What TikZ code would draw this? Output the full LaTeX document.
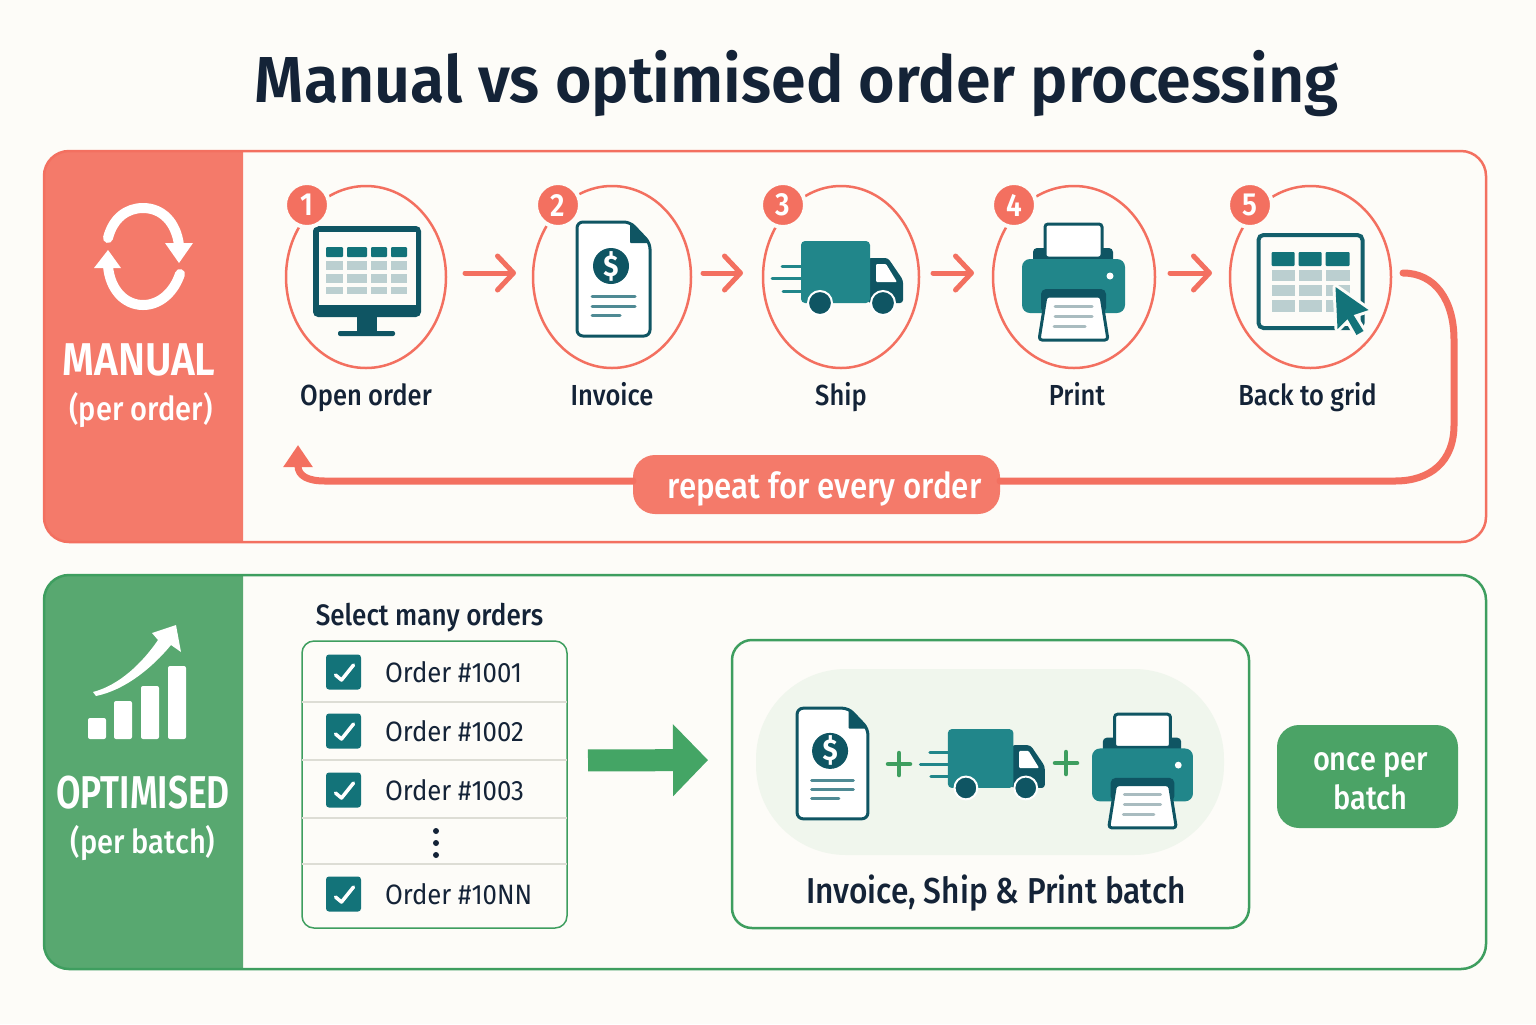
\documentclass[tikz,border=0pt]{standalone}
\usepackage{fontspec}
\setmainfont[FakeStretch=0.92]{Fira Sans}
\newfontfamily\labelfont[FakeStretch=0.88]{Fira Sans Medium}
\newfontfamily\titlefont[FakeStretch=0.965]{Fira Sans SemiBold}
\newfontfamily\sidefont[FakeStretch=0.88]{Fira Sans SemiBold}
\newfontfamily\sidenarrowfont[FakeStretch=0.77]{Fira Sans SemiBold}
\usetikzlibrary{%
	calc,%
	arrows.meta,%
	shapes.geometric,%
	positioning,%
}
\definecolor{cpaper}{RGB}{253, 252, 248}
\definecolor{cink}{RGB}{20, 35, 55}
\definecolor{cred}{RGB}{243, 112, 96}
\definecolor{credfill}{RGB}{244, 122, 106}
\definecolor{cgreen}{RGB}{62, 158, 95}
\definecolor{cgreenarrow}{RGB}{68, 165, 101}
\definecolor{cgreenfill}{RGB}{88, 168, 112}
\definecolor{cgreenpill}{RGB}{75, 163, 102}
\definecolor{cgreenlight}{RGB}{240, 246, 237}
\definecolor{cteal}{RGB}{33, 134, 138}
\definecolor{ctealmid}{RGB}{19, 115, 121}
\definecolor{ctealdark}{RGB}{15, 85, 99}
\definecolor{ccell}{RGB}{187, 207, 208}
\definecolor{cline}{RGB}{221, 221, 213}
\definecolor{cgreyline}{RGB}{169, 188, 192}
\definecolor{cdocline}{RGB}{79, 138, 148}
\tikzset{
	x=.5pt,%
	y=-.5pt,%
	nodes={align=center, inner sep=0, outer sep=0, text=cink},%
	panelframe/.style={%
			draw,%
			rectangle,%
			line width=1.25pt,%
			rounded corners=12.5pt,%
			minimum width=721pt},%
	stepnode/.style={%
			ellipse,%
			draw=cred,%
			line width=1.25pt,%
			minimum height=91pt},%
	badgenode/.style={%
			circle,%
			fill=cred,%
			draw=cpaper,%
			line width=2pt,%
			minimum size=22pt,%
			text=white,%
			font=\sidefont\fontsize{16}{18}\selectfont},%
	steplabel/.style={%
			text height=11.5pt,%
			text depth=3pt,%
			font=\labelfont\fontsize{14.5}{17}\selectfont},%
	sidetitle/.style={text=white, font=\sidefont\fontsize{23}{26}\selectfont},%
	sidenote/.style={text=white, font=\labelfont\fontsize{16.5}{19}\selectfont},%
	orderlabel/.style={font=\fontsize{14}{17}\selectfont},%
	checkbox/.style={%
			rectangle,%
			fill=ctealmid,%
			rounded corners=1.5pt,%
			minimum size=17.5pt},%
	checkmark/.style={draw=white, line width=1.75pt, line cap=round, line join=round},%
	flowarrow/.style={%
			draw=cred,%
			line width=2.5pt,%
			line cap=round,%
			-{Straight Barb[round, length=8pt, width=17pt]}},%
	loopline/.style={draw=cred, line width=3.5pt, line cap=round},%
	plussign/.style={draw=cgreen, line width=2.25pt, line cap=round},%
	pills/.style={rectangle, rounded corners=11pt, text=white, font=\labelfont\fontsize{16.5}{19.5}\selectfont},%
	pics/monitoricon/.style={code={%
				\fill[ctealdark, rounded corners=2.5pt] (-53,-51) rectangle (55,40);
				\fill[cpaper] (-47,-45) rectangle (50,28);
				\foreach \xa/\xb in {-40/-23,-19/1,5/21,25/41} {
						\fill[ctealmid, rounded corners=.5pt] (\xa,-30) rectangle (\xb,-20);
						\fill[ccell] (\xa,-16) rectangle (\xb,-7);
						\fill[ccell] (\xa,-3) rectangle (\xb,6);
						\fill[ccell] (\xa,10) rectangle (\xb,17);
					}
				\fill[ctealdark] (-9,40) rectangle (11,54);
				\fill[ctealdark, rounded corners=1pt] (-28,54) rectangle (29,59);
			}},%
	pics/invoiceicon/.style={code={%
				\draw[ctealdark, fill=white, line width=1.5pt, rounded corners=3pt, line join=round] (-36.5,-57) -- (16.5,-57) -- (36.5,-36) -- (36.5,57) -- (-36.5,57) -- cycle;
				\fill[ctealdark, rounded corners=.5pt] (16.5,-57) -- (36.5,-36) -- (16.5,-36) -- cycle;
				\node[circle, fill=ctealdark, minimum size=18pt, text=white, font=\bfseries\fontsize{15}{15}\selectfont] (-coin) at (-2.5,-13) {\$};
				\draw[cdocline, line width=1.5pt, line cap=round] (-21.5,17) -- (21.5,17) (-21.5,27) -- (21.5,27) (-21.5,36) -- (6.5,36);
			}},%
	pics/truckicon/.style={code={%
				\draw[cteal, line width=1.5pt, line cap=round] (-56,-6) -- (-37,-6) (-66,6) -- (-37,6) (-55,19) -- (-37,19);
				\fill[ctealdark, rounded corners=1.5pt] (30,-14) -- (50,-14) -- (65,8) -- (65,31) -- (30,31) -- cycle;
				\fill[white, rounded corners=.5pt] (38,-8) -- (48,-8) -- (59,10) -- (38,10) -- cycle;
				\fill[cteal, rounded corners=2pt] (-37,-31) rectangle (32,31);
				\draw[fill=ctealdark, draw=white, line width=1pt] (-18,31) circle (12);
				\draw[fill=ctealdark, draw=white, line width=1pt] (45,31) circle (12);
			}},%
	pics/printericon/.style={code={%
				\fill[ctealdark, rounded corners=2pt] (-40.5,-34) rectangle (39.5,-18);
				\draw[ctealdark, fill=white, line width=1.5pt, rounded corners=1.5pt] (-28.5,-58) rectangle (28.5,-24);
				\fill[cteal, rounded corners=4pt] (-51.5,-23) rectangle (51.5,31);
				\fill[white] (36.5,-6) circle (3.5);
				\fill[ctealdark, rounded corners=2.5pt] (-32.5,7) rectangle (32.5,31);
				\draw[ctealdark, fill=white, line width=1.5pt, rounded corners=1.5pt, line join=round] (-27.5,14) -- (27.5,14) -- (34.5,58) -- (-34.5,58) -- cycle;
				\draw[cgreyline, line width=1.5pt, line cap=round] (-18.5,24) -- (18.5,24) (-18.5,34) -- (18.5,34) (-19.5,44) -- (11.5,44);
			}},%
	pics/gridicon/.style={code={%
				\draw[ctealdark!80!cteal, line width=2pt, rounded corners=2.5pt] (-52,-42) rectangle (52,51);
				\foreach \xa/\xb in {-39/-16,-12/11,15/39} {
						\fill[ctealmid, rounded corners=.5pt] (\xa,-25) rectangle (\xb,-11);
						\fill[ccell] (\xa,-7) rectangle (\xb,4);
						\fill[ccell] (\xa,8) rectangle (\xb,19);
						\fill[ccell] (\xa,23) rectangle (\xb,35);
					}
				\draw[cpaper, line width=3pt, line join=round] (25,10) -- (58,33) -- (43,38) -- (53,54) -- (46,58) -- (37,42) -- (27,52) -- cycle;
				\fill[ctealmid] (25,10) -- (58,33) -- (43,38) -- (53,54) -- (46,58) -- (37,42) -- (27,52) -- cycle;
			}},%
}
\begin{document}
\begin{tikzpicture}
	\path[use as bounding box, fill=cpaper] (0,0) rectangle (1536,1024);

	\node[font=\titlefont\fontsize{32.5}{38}\selectfont] (title) at (797,84) {Manual vs optimised order processing};

	\fill[credfill] (243,151) [rounded corners=12.5pt] -- (44,151) -- (44,542) [sharp corners] -- (243,542) -- cycle;
	\node[panelframe, draw=cred, minimum height=195.5pt] (manual) at (765,346.5) {};
	\fill[cgreenfill] (243,575) [rounded corners=12.5pt] -- (44,575) -- (44,969) [sharp corners] -- (243,969) -- cycle;
	\node[panelframe, draw=cgreen, minimum height=197pt] (optimised) at (765,772) {};

	\draw[white, line width=5pt, line cap=round] (108,238) .. controls (113,218) and (127,208) .. (143,208) .. controls (162,208) and (176,222) .. (179,245);
	\fill[white] (165,243) -- (193,243) -- (179,263) -- cycle;
	\draw[white, line width=5pt, line cap=round] (180,274) .. controls (174,292) and (160,305) .. (143,305) .. controls (125,305) and (110,290) .. (108,266);
	\fill[white] (94,268) -- (121,268) -- (108,250) -- cycle;
	\node[sidetitle] (manualname) at (139,360) {MANUAL};
	\node[sidenote, below=8pt of manualname, xshift=1pt] (manualnote) {(per order)};

	\foreach \xa/\ya/\ha in {88/718/21,114/701/38,141/686/53,168/666/73} {
			\fill[white, rounded corners=1pt] (\xa,\ya) rectangle ++(18,\ha);
		}
	\fill[white, line join=round] (93,692) .. controls (120,685) and (143,662) .. (158,640) -- (152,633) -- (176,625) -- (181,652) -- (171,645) .. controls (152,668) and (125,690) .. (96,696) -- cycle;
	\node[sidetitle, font=\sidenarrowfont\fontsize{23}{26}\selectfont] (optname) at (143,793) {OPTIMISED};
	\node[sidenote, below=8pt of optname] (optnote) {(per batch)};

	\node[stepnode, minimum width=80pt] (step1) at (366,277) {};
	\node[stepnode, minimum width=79pt, right=43.5pt of step1] (step2) {};
	\node[stepnode, minimum width=78pt, right=36pt of step2] (step3) {};
	\node[stepnode, minimum width=81pt, right=37pt of step3] (step4) {};
	\node[stepnode, minimum width=80.5pt, right=37.5pt of step4] (step5) {};

	\pic at (step1) {monitoricon};
	\pic at ($(step2)+(1.5,2)$) {invoiceicon};
	\pic at ($(step3)+(-3,-5)$) {truckicon};
	\pic at ($(step4)+(-.5,5)$) {printericon};
	\pic at (step5) {gridicon};

	\node[badgenode] (badge1) at (307,205) {1};
	\node[badgenode] (badge2) at (558,205) {2};
	\node[badgenode] (badge3) at (783,205) {3};
	\node[badgenode] (badge4) at (1014,205) {4};
	\node[badgenode] (badge5) at (1250,205) {5};

	\node[steplabel, below=7pt of step1] (label1) {Open order};
	\node[steplabel, below=7pt of step2] (label2) {Invoice};
	\node[steplabel, below=7pt of step3] (label3) {Ship};
	\node[steplabel, below=7pt of step4, xshift=1.5pt] (label4) {Print};
	\node[steplabel, below=7pt of step5, xshift=-1.5pt] (label5) {Back to grid};

	\draw[flowarrow, shorten <=9.5pt, shorten >=8.5pt] ([yshift=2pt]step1.east) -- ([yshift=2pt]step2.west);
	\draw[flowarrow, shorten <=6pt, shorten >=10pt] ([yshift=2pt]step2.east) -- ([yshift=2pt]step3.west);
	\draw[flowarrow, shorten <=7pt, shorten >=9.5pt] ([yshift=2pt]step3.east) -- ([yshift=2pt]step4.west);
	\draw[flowarrow, shorten <=7.5pt, shorten >=9pt] ([yshift=2pt]step4.east) -- ([yshift=2pt]step5.west);

	\node[pills, fill=credfill, minimum width=183.5pt, minimum height=29.5pt, font=\labelfont\fontsize{17.8}{20}\selectfont] (repeat) at (816.5,484.5) {\rule{0pt}{17.5pt}\hspace*{8pt}repeat for every order};
	\coordinate (loopstart) at (1403,273);
	\coordinate (loopend) at (298,445);
	\draw[loopline] (loopstart) .. controls (1435,273) and (1454,300) .. (1454,340) -- (1454,425) .. controls (1454,462) and (1430,481) .. (1395,481) -- (repeat.east |- 0,481);
	\draw[loopline, -{Triangle[length=11pt, width=14pt]}] (repeat.west |- 0,481) -- (325,481) .. controls (308,481) and (298,476) .. (loopend);

	\node[steplabel, font=\labelfont\fontsize{14.8}{17}\selectfont] (selectlabel) at (429.5,617) {Select many orders};
	\node[draw=cgreen, rectangle, line width=.75pt, rounded corners=6pt, minimum width=132.5pt, minimum height=143.5pt] (orders) at (434.5,784.5) {};
	\foreach \y in {702,760,818,864} {
			\draw[cline, line width=.75pt] (orders.west |- 0,\y) -- (orders.east |- 0,\y);
		}
	\foreach \y/\num in {672/1001,731/1002,790/1003,894/10NN} {
			\node[checkbox] (check\num) at (343.5,\y) {};
			\node[orderlabel, right=12pt of check\num] (order\num) {Order \#\num};
			\draw[checkmark] ($(check\num)+(-8,3)$) -- ($(check\num)+(-2,8)$) -- ($(check\num)+(10,-7)$);
		}
	\foreach \y in {831,843,855} {
			\fill[cink] (436,\y) circle (3);
		}

	\node[draw=cgreen, rectangle, line width=1.25pt, rounded corners=10pt, minimum width=258.5pt, minimum height=144pt] (batch) at (990.5,784) {};
	\draw[cgreenarrow, line width=11pt, -{Triangle[length=17.5pt, width=35pt]}, shorten <=10.5pt, shorten >=12pt] ([yshift=12pt]orders.east) -- ([yshift=12pt]batch.west);
	\node[rectangle, fill=cgreenlight, rounded corners=45pt, minimum width=234pt, minimum height=93pt] (trio) at (990,762) {};
	\pic[scale=.97] at (832.5,763.5) {invoiceicon};
	\pic[scale=.95] at (983,758.5) {truckicon};
	\pic[scale=.98] at (1142.5,771) {printericon};
	\draw[plussign] (888,764) -- (910,764) (899,753) -- (899,775);
	\draw[plussign] (1055,763) -- (1077,763) (1066,752) -- (1066,774);
	\node[font=\labelfont\fontsize{18}{20}\selectfont] (batchlabel) at (996,893) {Invoice, Ship \& Print batch};

	\node[pills, fill=cgreenpill, minimum width=90.5pt, minimum height=51.5pt] (oncepill) at (1367.5,776.5) {\rule{0pt}{13.5pt}\hspace*{3pt}once per\\\hspace*{3pt}batch};
\end{tikzpicture}
\end{document}
